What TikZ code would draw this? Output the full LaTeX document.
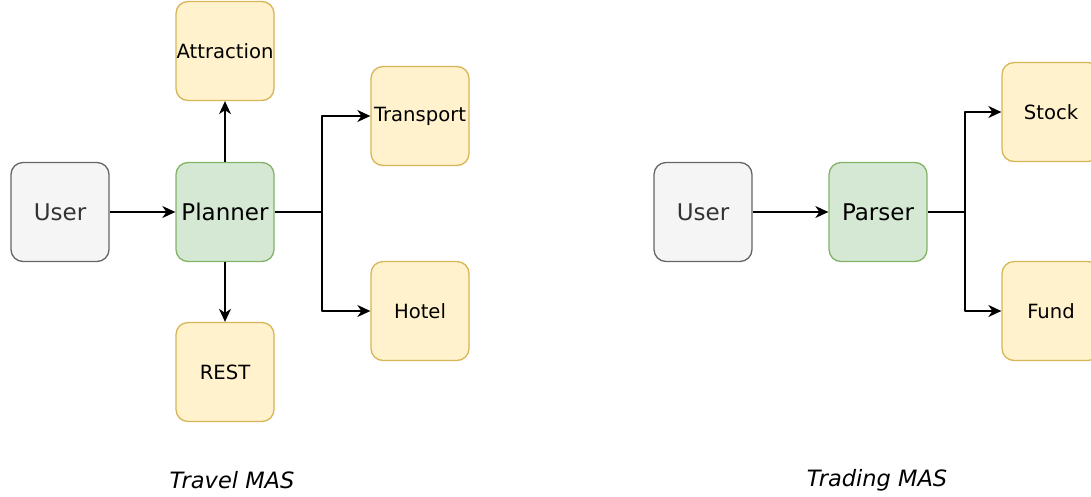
\documentclass[tikz,border=0pt]{standalone}
\usepackage{fontspec}
\setmainfont{DejaVu Sans}
\usetikzlibrary{arrows.meta}
\definecolor{usrfill}{HTML}{F5F5F5}
\definecolor{usrline}{HTML}{666666}
\definecolor{usrtext}{HTML}{333333}
\definecolor{ctlfill}{HTML}{D5E8D4}
\definecolor{ctlline}{HTML}{82B366}
\definecolor{agtfill}{HTML}{FFF2CC}
\definecolor{agtline}{HTML}{D6B656}
\begin{document}
\begin{tikzpicture}[x=1pt, y=-1pt, line join=round,
    box/.style={draw, line width=1.3pt, rounded corners=12pt, minimum width=98pt, minimum height=99pt, inner sep=0pt},
    user/.style={box, fill=usrfill, draw=usrline, text=usrtext, font=\fontsize{23}{27}\selectfont},
    ctl/.style={box, fill=ctlfill, draw=ctlline, font=\fontsize{23}{27}\selectfont},
    agent/.style={box, fill=agtfill, draw=agtline, font=\fontsize{19.6}{23}\selectfont},
    flow/.style={-{Stealth[length=13pt,width=12pt,inset=4pt]}, line width=1.5pt},
    caption/.style={font=\fontsize{22.5}{26}\selectfont\itshape}]
  \useasboundingbox (0,0) rectangle (1091,496);
  % travel
  \node[user] (tuser) at (60,212) {User};
  \node[ctl] (planner) at (225,212) {Planner};
  \node[agent] (attraction) at (225,51) {Attraction};
  \node[agent] (rest) at (225,372) {REST};
  \node[agent] (transport) at (420,116) {Transport};
  \node[agent] (hotel) at (420,311) {Hotel};
  \coordinate (tsplit) at (322,212);
  \draw[flow] (tuser) -- (planner);
  \draw[flow] (planner) -- (attraction);
  \draw[flow] (planner) -- (rest);
  \draw[flow] (planner) -- (tsplit) |- (transport);
  \draw[flow] (tsplit) |- (hotel);
  \node[caption] (travel) at (232,480) {Travel MAS};
  % trading
  \node[user] (duser) at (703,212) {User};
  \node[ctl] (parser) at (878,212) {Parser};
  \node[agent] (stock) at (1051,112) {Stock};
  \node[agent] (fund) at (1051,311) {Fund};
  \coordinate (dsplit) at (965,212);
  \draw[flow] (duser) -- (parser);
  \draw[flow] (parser) -- (dsplit) |- (stock);
  \draw[flow] (dsplit) |- (fund);
  \node[caption] (trading) at (877,480) {Trading MAS};
\end{tikzpicture}
\end{document}
